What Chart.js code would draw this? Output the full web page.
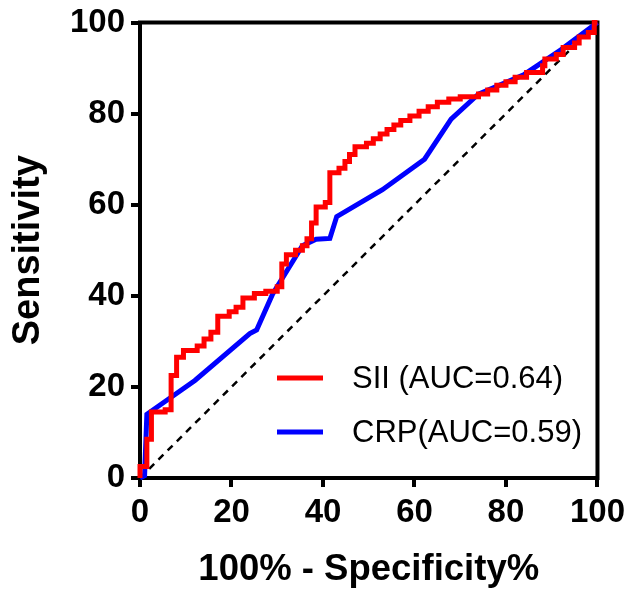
<!DOCTYPE html>
<html>
<head>
<meta charset="utf-8">
<script src="https://cdn.jsdelivr.net/npm/chart.js@4"></script>
<style>
  html,body{margin:0;padding:0;background:#fff;}
  #wrap{width:634px;height:592px;}
</style>
</head>
<body>
<div id="wrap"><canvas id="chart" width="634" height="592"></canvas></div>
<script>
// ROC curves (x = 100% - specificity, y = sensitivity)
const siiX = [0,0,1.5,1.5,2.5,2.5,5.5,5.5,6.8,6.8,8,8,9.5,9.5,12.5,12.5,14,14,15.5,15.5,17,17,19.5,19.5,21,21,22.5,22.5,25,25,27.5,27.5,30,30,31,31,32,32,34,34,35.5,35.5,36.5,36.5,37.5,37.5,38.5,38.5,40.5,40.5,41.5,41.5,43.5,43.5,44.8,44.8,45.8,45.8,47,47,49.5,49.5,51,51,52.5,52.5,54,54,55.5,55.5,57,57,59,59,61,61,63,63,65,65,67.5,67.5,70,70,74,74,76,76,78,78,80,80,82,82,84.5,84.5,88,88,88.5,88.5,91,91,92.5,92.5,95,95,96,96,98,98,99.3,99.3,100];
const siiY = [0,2.5,2.5,8.5,8.5,14.5,14.5,15,15,22.5,22.5,26.5,26.5,28,28,29,29,30.5,30.5,32,32,35.5,35.5,36.5,36.5,37.5,37.5,39.5,39.5,40.5,40.5,41,41,42,42,47,47,49,49,50,50,51,51,52.5,52.5,56,56,59.5,59.5,60.5,60.5,67,67,68,68,69.5,69.5,71,71,72.7,72.7,73.5,73.5,74.5,74.5,75.5,75.5,76.5,76.5,77.5,77.5,78.5,78.5,79.5,79.5,80.5,80.5,81.5,81.5,82.5,82.5,83.2,83.2,83.7,83.7,84.3,84.3,85.2,85.2,86.2,86.2,87,87,88,88,89,89,90.5,90.5,92,92,93,93,94.5,94.5,95.5,95.5,96.8,96.8,97.8,97.8,100,100];
const crpX = [0,1,1.5,12,24,25.5,29,35.5,38.5,41.5,43,53,62.2,68,74,84,92,100];
const crpY = [0,0.5,14,21.4,31.7,32.5,40.4,51,52.4,52.6,57.4,63.3,70,78.8,84.3,88.6,94,100];
const refX = [0,100];
const refY = [0,100];
const labels = ["SII (AUC=0.64)", "CRP(AUC=0.59)"];
const ticks = [0,20,40,60,80,100];

function pts(xs,ys){ return xs.map((x,i)=>({x:x,y:ys[i]})); }

const FONT = "'Liberation Sans', Arial, sans-serif";

// box round the plot area
const frame = {
  id:"frame",
  beforeDatasetsDraw(chart){
    const a = chart.chartArea, c = chart.ctx;
    c.save();
    c.strokeStyle="#000";
    c.lineWidth=4;
    c.strokeRect(a.left,a.top,a.right-a.left,a.bottom-a.top);
    c.restore();
  }
};

// legend inside the plot, lower right
const innerLegend = {
  id:"innerLegend",
  afterDraw(chart){
    const c = chart.ctx;
    c.save();
    c.font = "31px "+FONT;
    c.textBaseline="middle";
    chart.data.datasets.slice(0,2).forEach((d,i)=>{
      const y = 378 + i*54;
      c.strokeStyle=d.borderColor;
      c.lineWidth=5;
      c.beginPath();
      c.moveTo(277,y); c.lineTo(323,y);
      c.stroke();
      c.fillStyle="#000";
      c.fillText(d.label,352,y+1);
    });
    c.restore();
  }
};

new Chart(document.getElementById("chart"),{
  type:"scatter",
  data:{
    datasets:[
      {label:labels[0], data:pts(siiX,siiY), showLine:true, borderColor:"#ff0000", borderWidth:5, pointRadius:0, tension:0, clip:6, borderJoinStyle:"miter"},
      {label:labels[1], data:pts(crpX,crpY), showLine:true, borderColor:"#0000ff", borderWidth:5, pointRadius:0, tension:0, clip:6},
      {label:"ref", data:pts(refX,refY), showLine:true, borderColor:"#000", borderWidth:2.5, borderDash:[7,6], pointRadius:0}
    ]
  },
  plugins:[frame,innerLegend],
  options:{
    responsive:false,
    animation:false,
    layout:{padding:{left:0,right:36,top:20,bottom:0}},
    plugins:{legend:{display:false},tooltip:{enabled:false}},
    scales:{
      x:{
        type:"linear", min:0, max:100,
        afterFit(s){ s.height = 114; },
        afterBuildTicks(s){ s.ticks = ticks.map(v=>({value:v})); },
        border:{display:true,color:"#000",width:4},
        grid:{drawOnChartArea:false,color:"#000",lineWidth:4,tickLength:9},
        ticks:{color:"#000",padding:9,maxRotation:0,font:{family:FONT,size:33,weight:"bold",lineHeight:1}},
        title:{display:true,text:"100% - Specificity%",color:"#000",padding:{top:0,bottom:0},font:{family:FONT,size:36.5,weight:"bold"}}
      },
      y:{
        type:"linear", min:0, max:100,
        afterFit(s){ s.width = 140; },
        afterBuildTicks(s){ s.ticks = ticks.map(v=>({value:v})); },
        border:{display:true,color:"#000",width:4},
        grid:{drawOnChartArea:false,color:"#000",lineWidth:4,tickLength:9},
        ticks:{color:"#000",padding:6,font:{family:FONT,size:33,weight:"bold",lineHeight:1}},
        title:{display:true,text:"Sensitivity",color:"#000",padding:{top:6,bottom:0},font:{family:FONT,size:38,weight:"bold"}}
      }
    }
  }
});
</script>
</body>
</html>
